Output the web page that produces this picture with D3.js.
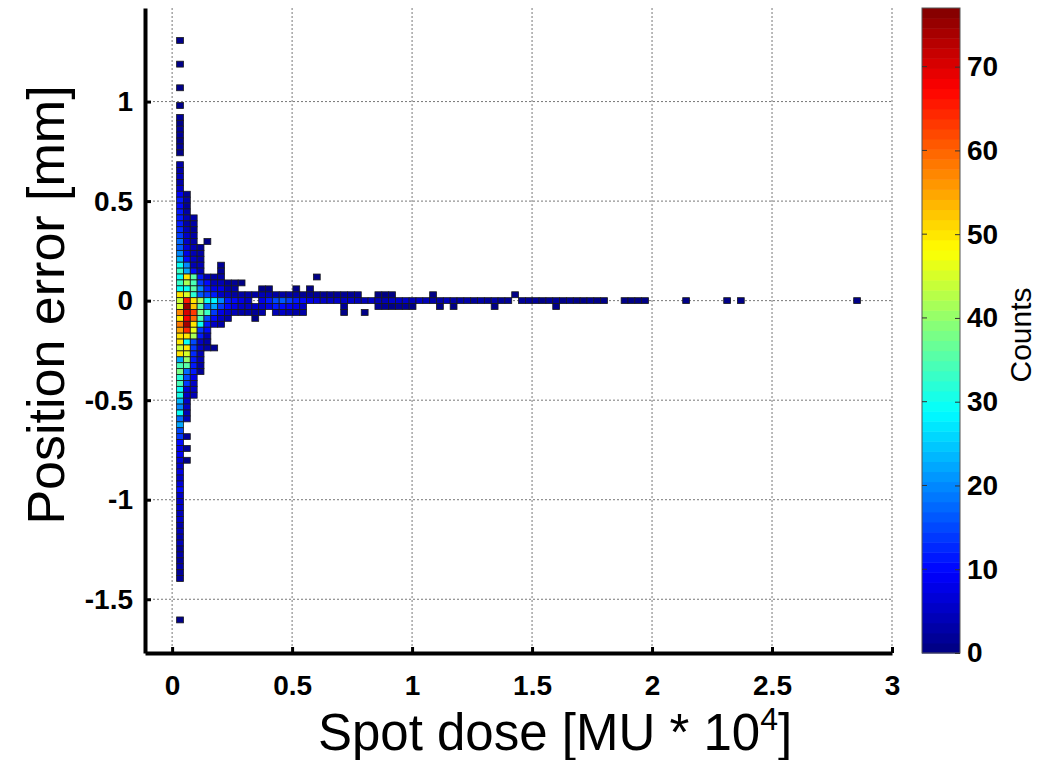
<!DOCTYPE html>
<html>
<head>
<meta charset="utf-8">
<script src="https://cdn.jsdelivr.net/npm/d3@7"></script>
<style>
  body { margin: 0; background: #fff; }
  svg { font-family: "Liberation Sans", Arial, sans-serif; }
</style>
</head>
<body>
<div id="chart"></div>
<script>
// bin layout of the 2D histogram (data units)
const X0 = 0.033, DX = 0.0285, DY = 0.0297;

const xTicks = [0, 0.5, 1, 1.5, 2, 2.5, 3];
const yTicks = [-1.5, -1, -0.5, 0, 0.5, 1];
const cTicks = [0, 10, 20, 30, 40, 50, 60, 70];
const cMax = 77;

// dense part: [column, top row, counts going down]
const coreColumns = [
    [0, 44, [1,0,0,0,1,0,0,0,1,0,0,1,0,2,1,2,2,1,2,1,0,3,3,4,3,5,9,11,10,12,11,12,13,14,18,16,20,24,30,33,29,33,30,50,44,
             45,57,50,58,55,50,50,44,50,22,34,38,32,34,30,31,24,20,29,18,22,15,14,10,8,9,7,6,8,5,7,10,6,5,6,4,5,3,4,3,4,2,3,2,3,2,2,
             0,0,0,0,0,0,1]],
    [1, 18, [2,3,2,3,4,3,4,5,5,7,8,10,20,22,50,42,30,45,65,75,70,68,74,64,50,30,50,45,40,36,18,15,14,7,6,5,5,4,4,0,0,2,0,2,0,1]],
    [2, 14, [3,3,2,3,3,4,4,5,4,10,35,34,36,32,50,52,63,60,50,46,42,15,14,13,12,12,11,8,6,5,4]],
    [3, 9, [2,3,3,4,4,12,14,20,16,42,35,38,34,30,14,12,6,5,4,4,3,2]],
    [4, 10, [1,0,0,0,0,0,4,10,12,14,30,16,33,15,12,10,4,3,3]],
    [5, 4, [3,4,8,12,28,22,14,10,5,0,0,0,2]],
    [6, 6, [2,2,3,4,8,6,20,14,8,6,3]],
    [7, 3, [2,3,4,12,10,6,3]],
    [8, 3, [2,3,3,10,8,4]]
];

// long thin tail: [row, first column, counts going right]
const tailRows = [
    [1, 9, [3,3,3,4,4,3,3,3,3,2,2,2,2,2,2,2,2,2]],
    [0, 9, [8,6,0,8,12,15,16,14,12,10,8,7,6,6,5,5,5,4,4,5,4,4,5,6,5,4,5,4,3,3,4,3,3,3,2,3,2,3,2,2,0,
            2,2,2,1,2,2,1,2,1,1,2,1,1,0,0,1,1,1,1]],
    [-1, 9, [5,6,5,6,8,12,10,9,8,6]],
    [-1, 29, [2,2,1,2,2,1]],
    [-2, 9, [3,3,2,3,0,4,5,4,3,3]]
];

// isolated cells: [column, row, count]
const singleCells = [
    [20, 4, 1], [9, 3, 1], [12, 2, 1], [13, 2, 1], [17, 2, 1], [19, 2, 1],
    [29, 1, 1], [30, 1, 1], [31, 1, 1], [37, 1, 1], [49, 1, 1],
    [74, 0, 1], [80, 0, 1], [82, 0, 1], [99, 0, 1],
    [24, -1, 2], [38, -1, 1], [40, -1, 1], [46, -1, 1], [55, -1, 1],
    [24, -2, 1], [27, -2, 1], [11, -3, 1]
];

// collect all non-empty bins
const cells = [];
coreColumns.forEach(([col, top, counts]) => {
    counts.forEach((c, k) => { if (c > 0) cells.push({ col: col, row: top - k, count: c }); });
});
tailRows.forEach(([row, first, counts]) => {
    counts.forEach((c, k) => { if (c > 0) cells.push({ col: first + k, row: row, count: c }); });
});
singleCells.forEach(([col, row, c]) => cells.push({ col: col, row: row, count: c }));

// MATLAB-like jet colormap
function jet(t) {
    const cl = v => Math.max(0, Math.min(1, v));
    return d3.rgb(
        255 * cl(1.5 - Math.abs(4 * t - 3)),
        255 * cl(1.5 - Math.abs(4 * t - 2)),
        255 * cl(1.5 - Math.abs(4 * t - 1))
    ).formatHex();
}
const jetColors = d3.range(64).map(k => jet((k + 0.5) / 64));
const color = d3.scaleQuantize().domain([0, cMax]).range(jetColors);

const width = 1040, height = 760;
const plot = { left: 145, right: 892, top: 8, bottom: 653 };

const svg = d3.select("#chart").append("svg")
    .attr("width", width)
    .attr("height", height);

const xScale = d3.scaleLinear().domain([-0.113, 3]).range([plot.left, plot.right]);
const yScale = d3.scaleLinear().domain([-1.77, 1.47]).range([plot.bottom, plot.top]);

// dotted grid
const grid = svg.append("g").attr("stroke", "#777").attr("stroke-width", 1).attr("stroke-dasharray", "2,2");
grid.selectAll(".vgrid").data(xTicks).enter().append("line")
    .attr("x1", d => xScale(d)).attr("x2", d => xScale(d))
    .attr("y1", plot.top).attr("y2", plot.bottom);
grid.selectAll(".hgrid").data(yTicks).enter().append("line")
    .attr("y1", d => yScale(d)).attr("y2", d => yScale(d))
    .attr("x1", plot.left).attr("x2", plot.right);

// histogram cells
svg.append("g").selectAll("rect")
    .data(cells)
    .enter().append("rect")
    .attr("x", d => xScale(X0 + d.col * DX - DX / 2))
    .attr("width", d => xScale(X0 + d.col * DX + DX / 2) - xScale(X0 + d.col * DX - DX / 2))
    .attr("y", d => yScale(d.row * DY + DY / 2))
    .attr("height", d => yScale(d.row * DY - DY / 2) - yScale(d.row * DY + DY / 2))
    .attr("fill", d => color(d.count))
    .attr("stroke", "#1a1a1a")
    .attr("stroke-width", 0.8);

// axes, ticks pointing inward
const xAxis = svg.append("g")
    .attr("transform", "translate(0," + plot.bottom + ")")
    .call(d3.axisBottom(xScale).tickValues(xTicks).tickSizeInner(-6).tickSizeOuter(0).tickPadding(22)
        .tickFormat(d => String(d)));
const yAxis = svg.append("g")
    .attr("transform", "translate(" + plot.left + ",0)")
    .call(d3.axisLeft(yScale).tickValues(yTicks).tickSizeInner(-6).tickSizeOuter(0).tickPadding(12)
        .tickFormat(d => String(d)));

[xAxis, yAxis].forEach(ax => {
    ax.select(".domain").attr("stroke", "#000").attr("stroke-width", 4);
    ax.selectAll(".tick line").attr("stroke", "#000").attr("stroke-width", 3);
    ax.selectAll(".tick text")
        .attr("fill", "#000")
        .style("font-size", "28px")
        .style("font-weight", "bold");
});

// axis titles
svg.append("text")
    .attr("x", 555)
    .attr("y", 750)
    .attr("text-anchor", "middle")
    .style("font-size", "51px")
    .html('Spot dose [MU * 10<tspan dy="-20" style="font-size:32px">4</tspan><tspan dy="20">]</tspan>');

svg.append("text")
    .attr("transform", "translate(64,305) rotate(-90)")
    .attr("text-anchor", "middle")
    .style("font-size", "52px")
    .text("Position error [mm]");

// colour bar
const cbar = { x: 922, w: 38 };
const cScale = d3.scaleLinear().domain([0, cMax]).range([plot.bottom, plot.top]);
const bands = d3.range(64);
svg.append("g").selectAll("rect")
    .data(bands)
    .enter().append("rect")
    .attr("x", cbar.x)
    .attr("width", cbar.w)
    .attr("y", k => cScale((k + 1) * cMax / 64))
    .attr("height", k => cScale(k * cMax / 64) - cScale((k + 1) * cMax / 64) + 0.5)
    .attr("fill", k => jetColors[k]);

svg.append("rect")
    .attr("x", cbar.x).attr("y", plot.top)
    .attr("width", cbar.w).attr("height", plot.bottom - plot.top)
    .attr("fill", "none").attr("stroke", "#555").attr("stroke-width", 1);

const cAxis = svg.append("g")
    .attr("transform", "translate(" + (cbar.x + cbar.w) + ",0)")
    .call(d3.axisRight(cScale).tickValues(cTicks).tickSizeInner(-5).tickSizeOuter(0).tickPadding(7));
cAxis.select(".domain").remove();
cAxis.selectAll(".tick line").attr("stroke", "#333").attr("stroke-width", 1);
cAxis.selectAll(".tick text").attr("fill", "#000").style("font-size", "28px").style("font-weight", "bold");

svg.append("g").selectAll("line")
    .data(cTicks.filter(d => d > 0))
    .enter().append("line")
    .attr("x1", cbar.x).attr("x2", cbar.x + 5)
    .attr("y1", d => cScale(d)).attr("y2", d => cScale(d))
    .attr("stroke", "#333").attr("stroke-width", 1);

svg.append("text")
    .attr("transform", "translate(1031,335) rotate(-90)")
    .attr("text-anchor", "middle")
    .style("font-size", "30px")
    .text("Counts");
</script>
</body>
</html>
